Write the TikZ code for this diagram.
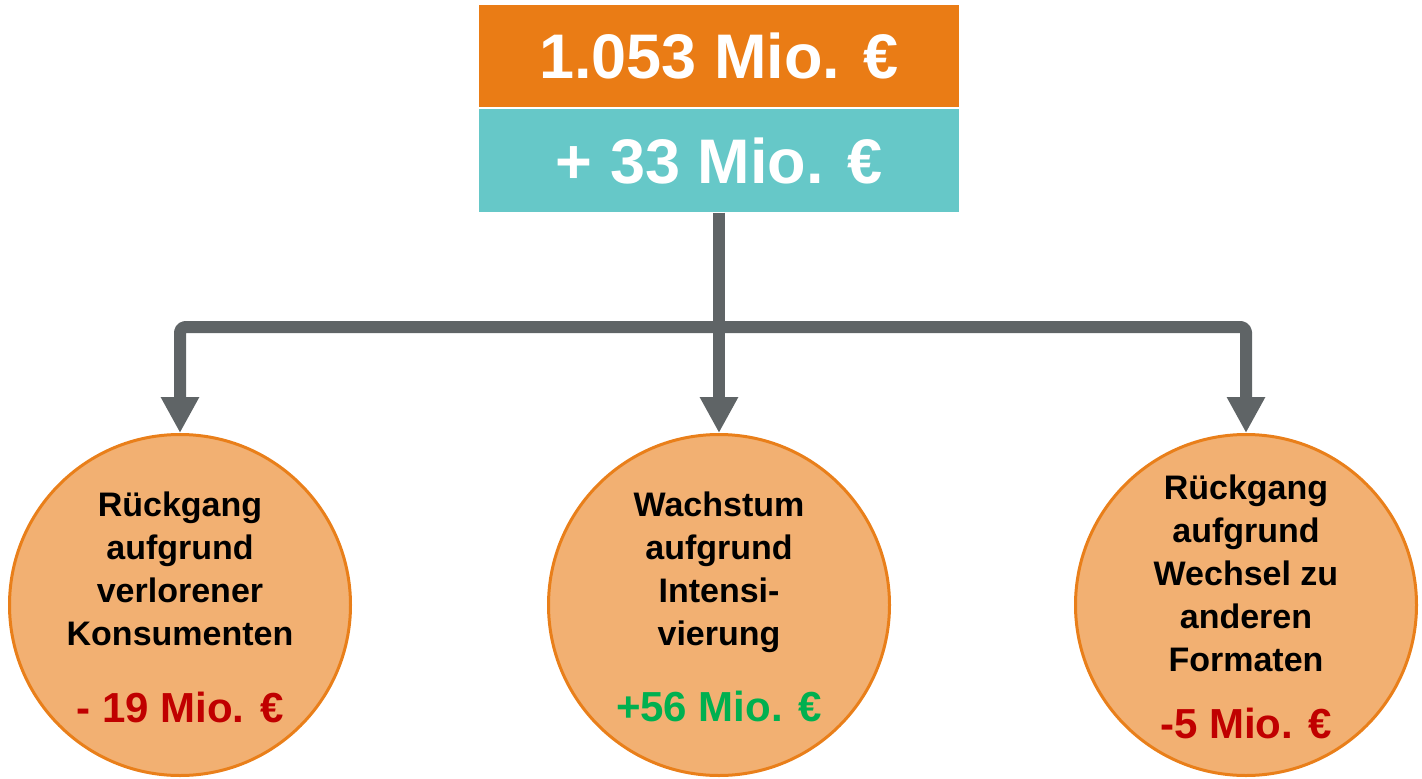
\documentclass[tikz,border=0pt]{standalone}
\usepackage{fontspec}
\setmainfont{Liberation Sans}
\usetikzlibrary{positioning,arrows.meta}
\definecolor{boxorange}{HTML}{EA7C15}
\definecolor{boxteal}{HTML}{66C8C8}
\definecolor{ballfill}{HTML}{F2B072}
\definecolor{balledge}{HTML}{E97F1A}
\definecolor{linkgray}{HTML}{5F6466}
\definecolor{lossred}{HTML}{C00000}
\definecolor{gaingreen}{HTML}{00B050}

\begin{document}
\begin{tikzpicture}[x=1pt,y=-1pt,line join=round,
    topbox/.style={rectangle,minimum width=480pt,inner sep=0pt,text=white,
        font=\fontsize{63}{70}\selectfont\bfseries},
    ball/.style={circle,draw=balledge,fill=ballfill,line width=3pt,
        minimum size=341pt,inner sep=0pt},
    balltext/.style={align=center,yshift=-2pt,
        font=\fontsize{34}{43}\selectfont\bfseries},
    amount/.style={font=\fontsize{42}{46}\selectfont\bfseries},
    link/.style={draw=linkgray,line width=12pt,rounded corners=5pt,
        -{Triangle[width=36pt,length=36pt]}}]
\useasboundingbox (0,0) rectangle (1422,779);

\node[topbox,fill=boxorange,minimum height=102pt] (total) at (719,56) {1.053 Mio. €};
\node[topbox,fill=boxteal,minimum height=103pt,below=2pt of total] (delta) {+ 33 Mio. €};

\node[ball] (lost) at (180,605) {};
\node[ball] (growth) at (719,605) {};
\node[ball] (switch) at (1246,605) {};

\node[balltext] (losttext) at (lost.center) {R\"uckgang\\aufgrund\\verlorener\\Konsumenten\\[34pt]%
    {\color{lossred}\fontsize{42}{46}\selectfont - 19 Mio. €}};
\node[balltext] (growthtext) at (growth.center) {Wachstum\\aufgrund\\Intensi-\\vierung\\[33pt]%
    {\color{gaingreen}\fontsize{42}{46}\selectfont +56 Mio. €}};
\node[balltext] (switchtext) at (switch.center) {R\"uckgang\\aufgrund\\Wechsel zu\\anderen\\Formaten\\[24pt]%
    {\color{lossred}\fontsize{42}{46}\selectfont -5 Mio. €}};

\coordinate (split) at (719,327);
\draw[link] (delta.south) -- (growth.north);
\draw[link] (split) -| (lost.north);
\draw[link] (split) -| (switch.north);
\end{tikzpicture}
\end{document}
